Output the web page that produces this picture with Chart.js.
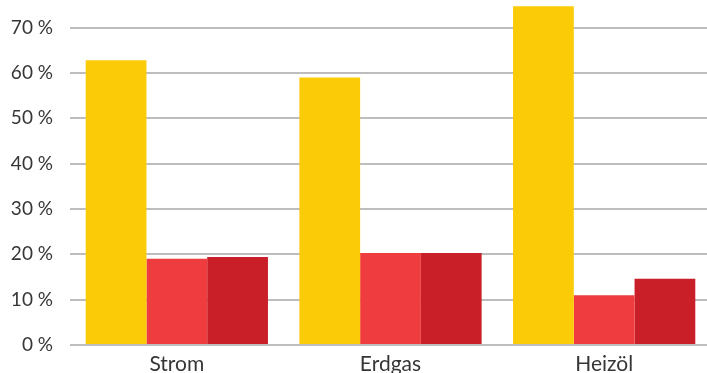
<!DOCTYPE html>
<html>
<head>
<meta charset="utf-8">
<script src="https://cdn.jsdelivr.net/npm/chart.js@4"></script>
<style>
    html, body { margin: 0; padding: 0; background: #fff; overflow: hidden; }
    /* plot runs a few pixels past the right edge of the page */
    #wrap { width: 711px; height: 373px; position: relative; }
</style>
</head>
<body>
<div id="wrap"><canvas id="barChartEnergy"></canvas></div>
<script>
var categories = ["Strom", "Erdgas", "Heizöl"];
var seriesA = [62.8, 59.0, 74.7];
var seriesB = [19.0, 20.3, 11.0];
var seriesC = [19.4, 20.3, 14.6];
var yTicks = [0, 10, 20, 30, 40, 50, 60, 70];

var barColors = ["#fccb07", "#ef3d3f", "#c91f28"];

var chartDiv = document.getElementById("barChartEnergy");
var myChart = new Chart(chartDiv, {
    type: 'bar',
    data: {
        labels: categories,
        datasets: [
            { data: seriesA, backgroundColor: barColors[0] },
            { data: seriesB, backgroundColor: barColors[1] },
            { data: seriesC, backgroundColor: barColors[2] }
        ]
    },
    options: {
        responsive: true,
        maintainAspectRatio: false,
        animation: false,
        datasets: {
            bar: { barPercentage: 1.0, categoryPercentage: 0.853 }
        },
        layout: { padding: { top: 5, right: 0, left: 0, bottom: 0 } },
        plugins: {
            legend: { display: false },
            tooltip: { enabled: false }
        },
        scales: {
            x: {
                grid: { display: false, drawTicks: false },
                border: { display: false },
                ticks: {
                    color: '#363636',
                    padding: 7,
                    font: { family: 'Lato', size: 21 }
                },
                afterFit: function (scale) {
                    scale.height = 28;
                    scale.paddingLeft = 0;
                    scale.paddingRight = 0;
                }
            },
            y: {
                min: 0,
                max: 75,
                afterBuildTicks: function (scale) {
                    scale.ticks = yTicks.map(function (v) { return { value: v }; });
                },
                grid: { color: '#bdbdbd', lineWidth: 2, drawTicks: false },
                border: { display: false },
                ticks: {
                    color: '#363636',
                    padding: 17,
                    font: { family: 'Lato', size: 19 },
                    callback: function (v) { return v + ' %'; }
                },
                afterFit: function (scale) {
                    scale.width = 70;
                    scale.paddingTop = 0;
                    scale.paddingBottom = 0;
                }
            }
        }
    }
});
</script>
</body>
</html>
